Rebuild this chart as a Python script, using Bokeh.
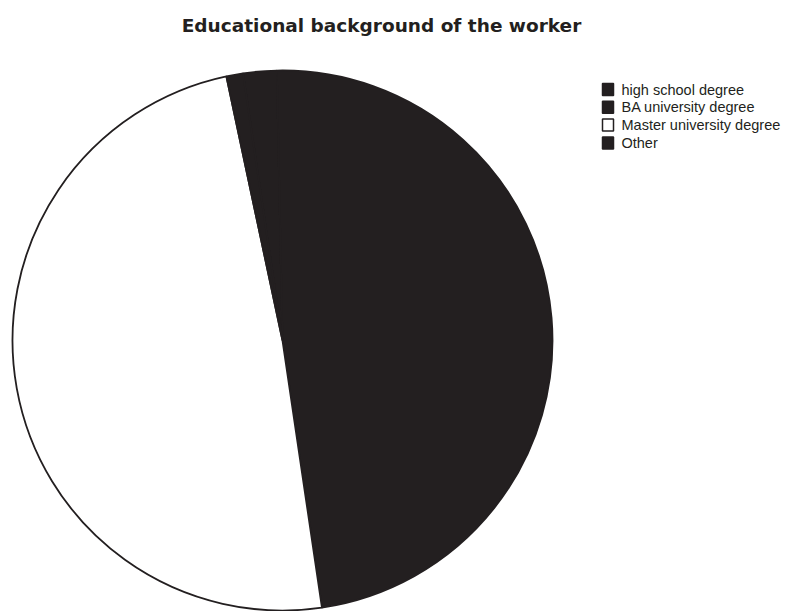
import math
from bokeh.plotting import figure
from bokeh.models import ColumnDataSource, Range1d
from bokeh.core.properties import value
from bokeh.embed import file_html
from bokeh.resources import INLINE

# ---- data ----
title_text = "Educational background of the worker"
categories = ["high school degree", "BA university degree", "Master university degree", "Other"]
percent = [2, 48, 49, 1]
fill_colors = ["#231f20", "#231f20", "#ffffff", "#231f20"]

# ---- layout constants (page px, y measured upward from bottom) ----
W, H = 788, 611
CX, CY, R = 282, 271, 270
START_COMPASS_DEG = -8.4  # clockwise from 12 o'clock

p = figure(width=W, height=H, output_backend="svg", toolbar_location=None,
           x_range=Range1d(0, W), y_range=Range1d(0, H), min_border=0)
p.axis.visible = False
p.grid.visible = False
p.outline_line_color = None
p.background_fill_color = "white"
p.border_fill_color = "white"

total = float(sum(percent))
starts, ends = [], []
acc = START_COMPASS_DEG
for v in percent:
    a0 = acc
    a1 = acc + 360.0 * v / total
    starts.append(math.pi / 2 - math.radians(a0))
    ends.append(math.pi / 2 - math.radians(a1))
    acc = a1

src = ColumnDataSource(dict(start=starts, end=ends, color=fill_colors, cat=categories))
p.wedge(x=CX, y=CY, radius=R, start_angle="start", end_angle="end", direction="clock",
        fill_color="color", line_color="#231f20", line_width=1.8, source=src)

# title
p.text(x=[381], y=[H - 25], text=[title_text], text_font=value("DejaVu Sans"),
       text_font_style="bold", text_font_size="18.5px", text_align="center",
       text_baseline="middle", text_color="#231f20")

# legend
n = len(categories)
ly = [H - 89 - 17.8 * i for i in range(n)]
lx = [607.5] * n
p.rect(x=lx, y=ly, width=11, height=12, fill_color=fill_colors, line_color="#231f20",
       line_width=1.5)
p.text(x=[621] * n, y=ly, text=categories, text_font=value("Liberation Sans"),
       text_font_size="14.5px", text_align="left", text_baseline="middle",
       text_color="#231f20")

open("out.html", "w").write(file_html(p, INLINE))
